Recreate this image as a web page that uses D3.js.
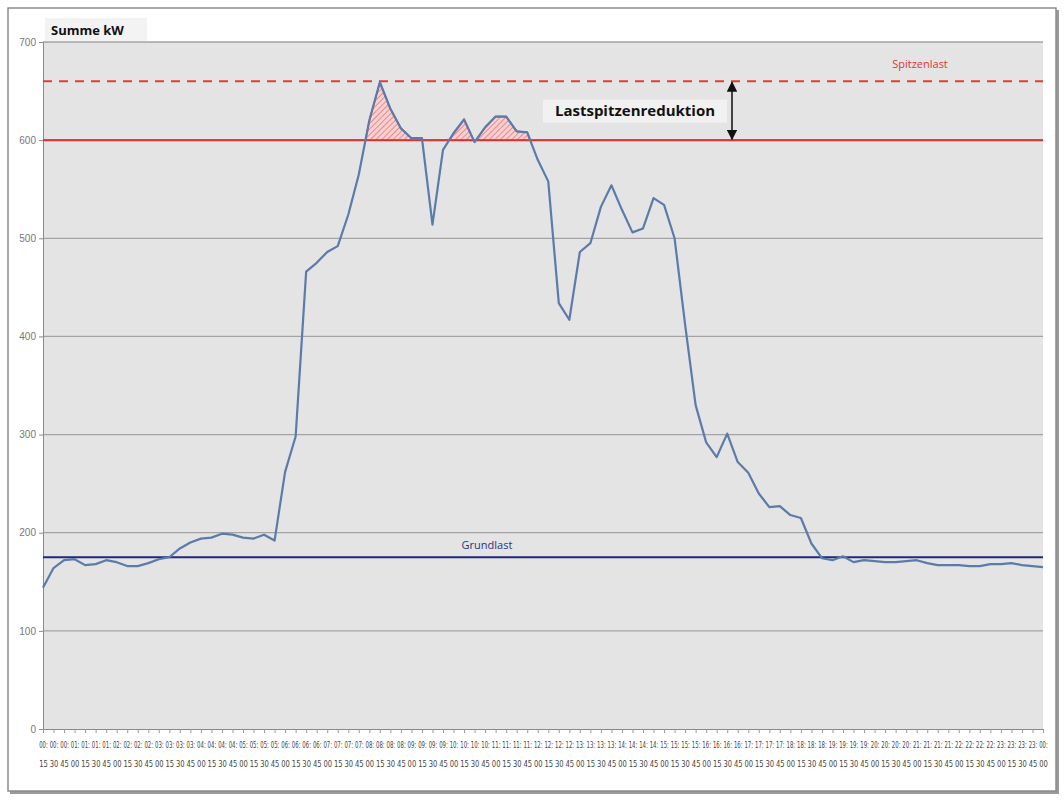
<!DOCTYPE html>
<html>
<head>
<meta charset="utf-8">
<script src="https://cdn.jsdelivr.net/npm/d3@7"></script>
<style>
  body { margin: 0; background: #fff; }
  svg { display: block; font-family: "Open Sans", "DejaVu Sans", sans-serif; }
</style>
</head>
<body>
<div id="chart"></div>
<script>
// Lastgang: 96 Viertelstundenwerte (kW)
const times = d3.range(96).map(i => {
    const m = (i + 1) * 15;
    return [String(Math.floor(m / 60) % 24).padStart(2, "0"), String(m % 60).padStart(2, "0")];
});
const values = [
    144, 164, 172, 173, 167, 168, 172, 170, 166, 166,
    169, 173, 175, 184, 190, 194, 195, 199, 198, 195,
    194, 198, 192, 262, 298, 466, 475, 486, 492, 524,
    565, 620, 659, 632, 612, 602, 602, 514, 590, 607,
    621, 598, 613, 624, 624, 609, 608, 580, 558, 434,
    417, 486, 495, 532, 554, 529, 506, 510, 541, 534,
    500, 412, 330, 292, 277, 301, 272, 261, 240, 226,
    227, 218, 215, 189, 174, 172, 176, 170, 172, 171,
    170, 170, 171, 172, 169, 167, 167, 167, 166, 166,
    168, 168, 169, 167, 166, 165
];
const yTicks = [0, 100, 200, 300, 400, 500, 600, 700];
const spitzenlast = 660;
const kappung = 600;
const grundlast = 175;

const W = 1064, H = 800;
const margin = {top: 42, right: 21, bottom: 71, left: 43};
const width = W - margin.left - margin.right;
const height = H - margin.top - margin.bottom;

const svg = d3.select("#chart").append("svg")
    .attr("width", W)
    .attr("height", H);

// outer frame with shadow
svg.append("rect").attr("x", 10).attr("y", 10).attr("width", 1049).attr("height", 784)
    .attr("fill", "#9a9a9a");
svg.append("rect").attr("x", 8).attr("y", 8).attr("width", 1048).attr("height", 783)
    .attr("fill", "#fff").attr("stroke", "#8c8c8c").attr("stroke-width", 1.5);

const defs = svg.append("defs");
const pat = defs.append("pattern")
    .attr("id", "hatch")
    .attr("patternUnits", "userSpaceOnUse")
    .attr("width", 4).attr("height", 4)
    .attr("patternTransform", "rotate(45)");
pat.append("rect").attr("width", 4).attr("height", 4).attr("fill", "#f8d2d2");
pat.append("line").attr("x1", 0).attr("y1", 0).attr("x2", 0).attr("y2", 4)
    .attr("stroke", "#e24a4a").attr("stroke-width", 1.1);

const x = d3.scaleLinear().domain([0, values.length - 1]).range([0, width]);
const y = d3.scaleLinear().domain([0, 700]).range([height, 0]);

defs.append("clipPath").attr("id", "aboveCap")
    .append("rect").attr("x", 0).attr("y", 0)
    .attr("width", width).attr("height", y(kappung));

// title box
svg.append("rect").attr("x", 45).attr("y", 18).attr("width", 102).attr("height", 23)
    .attr("fill", "#f3f3f3");
svg.append("text").attr("x", 51).attr("y", 35)
    .attr("font-size", 13).attr("font-weight", "bold").attr("fill", "#111")
    .text("Summe kW");

const g = svg.append("g")
    .attr("transform", "translate(" + margin.left + "," + margin.top + ")");

g.append("rect").attr("width", width).attr("height", height).attr("fill", "#e4e4e4");

// grid
g.append("g")
    .selectAll("line")
    .data(yTicks.filter(d => d > 0))
    .enter().append("line")
    .attr("x1", 0).attr("x2", width)
    .attr("y1", d => y(d)).attr("y2", d => y(d))
    .attr("stroke", "#a3a3a3").attr("stroke-width", 1.3);

// y axis
const yAxis = g.append("g")
    .call(d3.axisLeft(y).tickValues(yTicks).tickSize(4).tickPadding(3));
yAxis.select(".domain").attr("stroke", "#8a8a8a");
yAxis.selectAll(".tick line").attr("stroke", "#8a8a8a");
yAxis.selectAll("text").attr("fill", "#777").attr("font-size", 10);

// x axis
const xAxis = g.append("g")
    .attr("transform", "translate(0," + height + ")")
    .call(d3.axisBottom(x).tickValues(d3.range(values.length)).tickSize(4).tickFormat(""));
xAxis.select(".domain").attr("stroke", "#8a8a8a");
xAxis.selectAll(".tick line").attr("stroke", "#9a9a9a");
const lblFont = "'Liberation Sans Narrow', 'DejaVu Sans Condensed', sans-serif";
const tick = xAxis.selectAll(".tick");
tick.append("text")
    .attr("x", 0).attr("y", 19)
    .attr("fill", "#444").attr("font-size", 8).attr("text-anchor", "middle")
    .attr("font-family", lblFont)
    .attr("textLength", 8.6).attr("lengthAdjust", "spacingAndGlyphs")
    .text(d => times[d][0] + ":");
tick.append("text")
    .attr("x", 0).attr("y", 38)
    .attr("fill", "#444").attr("font-size", 8).attr("text-anchor", "middle")
    .attr("font-family", lblFont)
    .attr("textLength", 8.6).attr("lengthAdjust", "spacingAndGlyphs")
    .text(d => times[d][1]);

// hatched area above cap
const area = d3.area()
    .x((d, i) => x(i))
    .y0(y(kappung))
    .y1(d => y(d));
g.append("path")
    .datum(values)
    .attr("clip-path", "url(#aboveCap)")
    .attr("d", area)
    .attr("fill", "url(#hatch)")
    .attr("stroke", "#e03535")
    .attr("stroke-width", 1.5);

// reference lines
g.append("line").attr("x1", 0).attr("x2", width)
    .attr("y1", y(spitzenlast)).attr("y2", y(spitzenlast))
    .attr("stroke", "#e23b3b").attr("stroke-width", 2).attr("stroke-dasharray", "9,7");
g.append("line").attr("x1", 0).attr("x2", width)
    .attr("y1", y(kappung)).attr("y2", y(kappung))
    .attr("stroke", "#d83535").attr("stroke-width", 2);
g.append("line").attr("x1", 0).attr("x2", width)
    .attr("y1", y(grundlast)).attr("y2", y(grundlast))
    .attr("stroke", "#1f2a7a").attr("stroke-width", 2);

// load curve
const line = d3.line()
    .x((d, i) => x(i))
    .y(d => y(d));
g.append("path")
    .datum(values)
    .attr("d", line)
    .attr("fill", "none")
    .attr("stroke", "#5b7bab")
    .attr("stroke-width", 2.2)
    .attr("stroke-linejoin", "round");

// labels
g.append("text").attr("x", 877).attr("y", y(spitzenlast) - 13)
    .attr("text-anchor", "middle").attr("font-size", 11).attr("fill", "#e03535")
    .text("Spitzenlast");
g.append("text").attr("x", 444).attr("y", y(grundlast) - 8)
    .attr("text-anchor", "middle").attr("font-size", 11).attr("fill", "#2a3380")
    .text("Grundlast");

// Lastspitzenreduktion annotation
const ax = 689;
g.append("rect").attr("x", 500).attr("y", y(630) - 11).attr("width", 184).attr("height", 23)
    .attr("fill", "#f1f1f1");
g.append("text").attr("x", 592).attr("y", y(630) + 5)
    .attr("text-anchor", "middle").attr("font-size", 15).attr("font-weight", "bold").attr("fill", "#111")
    .text("Lastspitzenreduktion");
defs.append("marker").attr("id", "arr")
    .attr("viewBox", "0 0 10 10").attr("refX", 9).attr("refY", 5)
    .attr("markerWidth", 7).attr("markerHeight", 7).attr("orient", "auto-start-reverse")
    .append("path").attr("d", "M0,0L10,5L0,10z").attr("fill", "#111");
g.append("line").attr("x1", ax).attr("x2", ax)
    .attr("y1", y(spitzenlast) + 1).attr("y2", y(kappung) - 1)
    .attr("stroke", "#111").attr("stroke-width", 1.5)
    .attr("marker-start", "url(#arr)").attr("marker-end", "url(#arr)");
</script>
</body>
</html>
